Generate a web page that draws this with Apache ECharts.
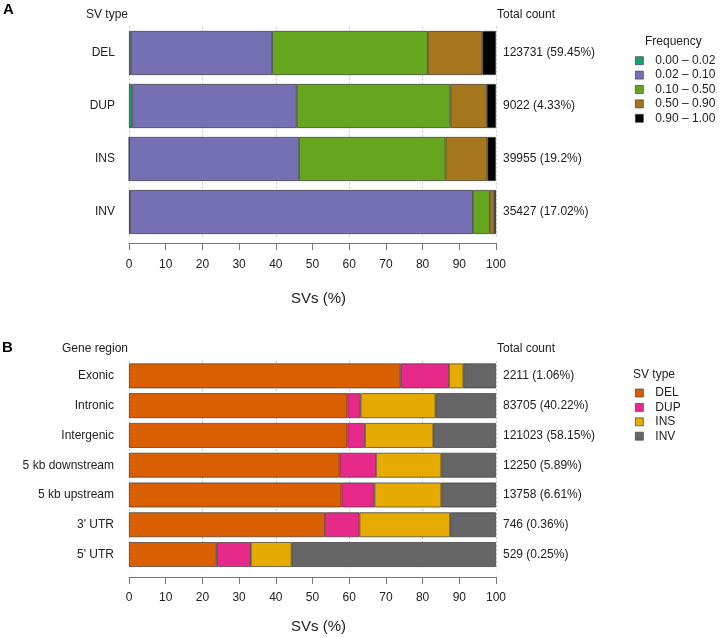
<!DOCTYPE html>
<html>
<head>
<meta charset="utf-8">
<script src="https://cdn.jsdelivr.net/npm/echarts@6/dist/echarts.min.js"></script>
<style>
html,body{margin:0;padding:0;background:#fff;}
#chart{width:727px;height:638px;}
</style>
</head>
<body>
<div id="chart"></div>
<script>
// ---- Panel A data ----
var svTypes = ['DEL', 'DUP', 'INS', 'INV'];
var svCounts = ['123731', '9022', '39955', '35427'];
var svPcts = ['59.45%', '4.33%', '19.2%', '17.02%'];
var freqBins = ['0.00 – 0.02', '0.02 – 0.10', '0.10 – 0.50', '0.50 – 0.90', '0.90 – 1.00'];
var freq000_002 = [0.5, 0.9, 0.05, 0.3];
var freq002_010 = [38.5, 44.8, 46.3, 93.4];
var freq010_050 = [42.4, 41.9, 39.9, 4.6];
var freq050_090 = [14.9, 9.9, 11.4, 1.2];
var freq090_100 = [3.7, 2.5, 2.3, 0.5];

// ---- Panel B data ----
var geneRegions = ['Exonic', 'Intronic', 'Intergenic', '5 kb downstream', '5 kb upstream', "3' UTR", "5' UTR"];
var regionCounts = ['2211', '83705', '121023', '12250', '13758', '746', '529'];
var regionPcts = ['1.06%', '40.22%', '58.15%', '5.89%', '6.61%', '0.36%', '0.25%'];
var delPct = [74.0, 59.5, 59.5, 57.4, 57.9, 53.4, 23.9];
var dupPct = [13.2, 3.6, 4.8, 9.9, 9.0, 9.4, 9.3];
var insPct = [3.9, 20.4, 18.6, 17.8, 18.2, 24.7, 11.1];
var invPct = [8.9, 16.5, 17.1, 14.9, 14.9, 12.5, 55.7];

var xTicks = [0, 100, 10]; // min, max, interval

var FONT = 'Liberation Sans, Arial, Helvetica, sans-serif';
var TXT = '#222';
var freqColors = ['#1B9E77', '#7570B3', '#66A61E', '#A6761D', '#000000'];
var typeColors = ['#D95F02', '#E7298A', '#E6AB02', '#666666'];
var BORDER = {borderColor: '#3a3a3a', borderWidth: 0.7};

var chart = echarts.init(document.getElementById('chart'), null, {renderer: 'canvas'});

function mkLabels(c, p) { return c.map(function (v, i) { return v + ' (' + p[i] + ')'; }); }

function valueAxes(gridIndex, nameGap, labelMargin, offset) {
  return [{
    type: 'value', gridIndex: gridIndex, min: xTicks[0], max: xTicks[1], interval: xTicks[2],
    offset: offset,
    name: 'SVs (%)', nameLocation: 'middle', nameGap: nameGap,
    nameTextStyle: {fontFamily: FONT, fontSize: 15, color: TXT, padding: [0, 0, 0, 12]},
    axisLine: {show: true, lineStyle: {color: '#777', width: 1}},
    axisTick: {show: true, length: 7, lineStyle: {color: '#777', width: 1}},
    axisLabel: {fontFamily: FONT, fontSize: 12, color: TXT, margin: labelMargin},
    splitLine: {show: false}
  }, {
    type: 'value', gridIndex: gridIndex, min: 0, max: 100, interval: 20,
    axisLine: {show: false}, axisTick: {show: false}, axisLabel: {show: false},
    splitLine: {show: true, lineStyle: {color: '#c8c8c8', type: [2, 2], width: 1}}
  }];
}

var xAxes = valueAxes(0, 48, 16, 4.5).concat(valueAxes(1, 42.5, 15, 7.6));

var yAxes = [
  {type: 'category', gridIndex: 0, data: svTypes, inverse: true,
   axisLine: {show: false}, axisTick: {show: false},
   axisLabel: {fontFamily: FONT, fontSize: 12, color: TXT, margin: 14}},
  {type: 'category', gridIndex: 0, data: mkLabels(svCounts, svPcts), inverse: true, position: 'right',
   axisLine: {show: false}, axisTick: {show: false},
   axisLabel: {fontFamily: FONT, fontSize: 12, color: TXT, margin: 7}},
  {type: 'category', gridIndex: 1, data: geneRegions, inverse: true,
   axisLine: {show: false}, axisTick: {show: false},
   axisLabel: {fontFamily: FONT, fontSize: 12, color: TXT, margin: 15}},
  {type: 'category', gridIndex: 1, data: mkLabels(regionCounts, regionPcts), inverse: true, position: 'right',
   axisLine: {show: false}, axisTick: {show: false},
   axisLabel: {fontFamily: FONT, fontSize: 12, color: TXT, margin: 7}}
];

var seriesA = [freq000_002, freq002_010, freq010_050, freq050_090, freq090_100].map(function (d, i) {
  return {
    name: freqBins[i], type: 'bar', stack: 'A', xAxisIndex: 0, yAxisIndex: 0,
    barCategoryGap: '17%', data: d,
    itemStyle: Object.assign({color: freqColors[i]}, BORDER)
  };
});
var seriesB = [delPct, dupPct, insPct, invPct].map(function (d, i) {
  return {
    name: svTypes[i], type: 'bar', stack: 'B', xAxisIndex: 2, yAxisIndex: 2,
    barCategoryGap: '16.7%', data: d,
    itemStyle: Object.assign({color: typeColors[i]}, BORDER)
  };
});

function legend(names, top) {
  return {
    data: names, orient: 'vertical', left: 635, top: top, padding: 0,
    itemWidth: 8, itemHeight: 8, itemGap: 0.4, icon: 'rect',
    itemStyle: {borderColor: '#444', borderWidth: 0.7},
    textStyle: {fontFamily: FONT, fontSize: 12, color: TXT, lineHeight: 14, padding: [0, 0, 0, 7]},
    selectedMode: false
  };
}

function txt(text, x, y, align, extra) {
  return {type: 'text', x: x, y: y,
    style: Object.assign({text: text, fontFamily: FONT, fontSize: 12, fill: TXT,
      textAlign: align, textVerticalAlign: 'middle'}, extra || {})};
}

var option = {
  animation: false,
  backgroundColor: '#fff',
  grid: [
    {left: 129, right: 231, top: 26.5, height: 212},
    {left: 129, right: 231, top: 361, height: 208.4}
  ],
  xAxis: xAxes,
  yAxis: yAxes,
  legend: [legend(freqBins, 53.7), legend(svTypes, 386)],
  series: seriesA.concat(seriesB),
  graphic: [
    txt('A', 3, 10, 'left', {fontSize: 15, fontWeight: 'bold', fill: '#000'}),
    txt('B', 2, 348, 'left', {fontSize: 15, fontWeight: 'bold', fill: '#000'}),
    txt('SV type', 128, 15, 'right'),
    txt('Total count', 497, 15, 'left'),
    txt('Gene region', 128, 349, 'right'),
    txt('Total count', 497, 349, 'left'),
    txt('Frequency', 645, 42, 'left'),
    txt('SV type', 633, 375, 'left')
  ]
};
chart.setOption(option);
</script>
</body>
</html>
